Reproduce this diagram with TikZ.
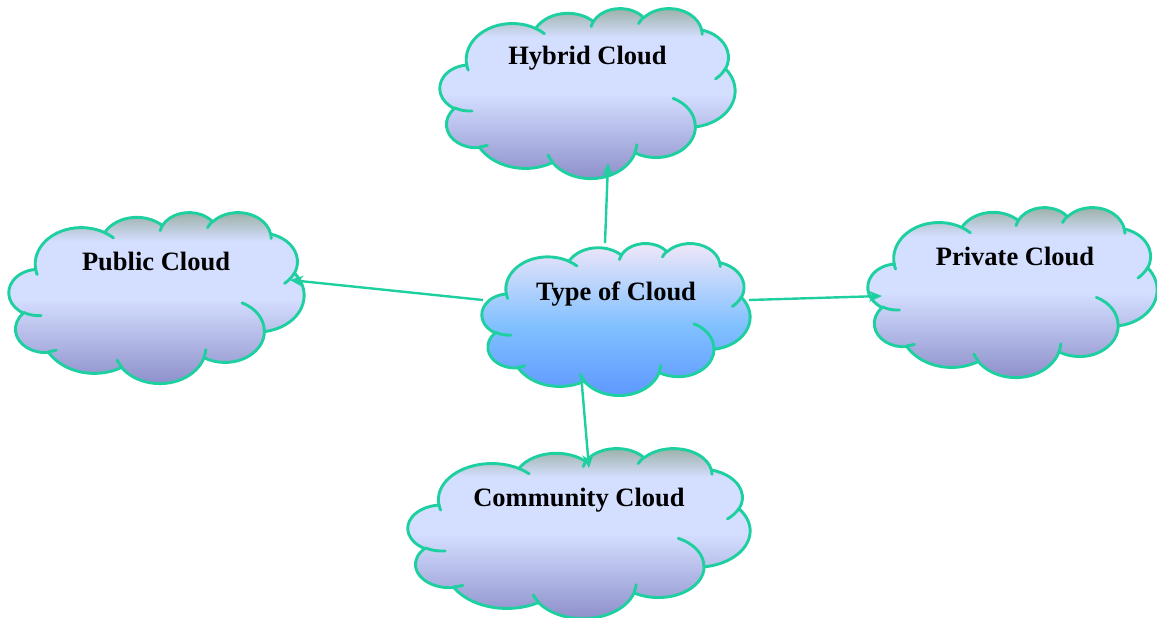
\documentclass[tikz,border=0pt]{standalone}
\usepackage{fontspec}
\setmainfont{Liberation Serif}
\usetikzlibrary{arrows.meta}

\definecolor{edgeteal}{RGB}{30,208,160}
\definecolor{lavtop}{RGB}{150,172,158}
\definecolor{lavmid}{RGB}{212,222,255}
\definecolor{lavbot}{RGB}{138,140,200}
\definecolor{bluetop}{RGB}{243,232,248}
\definecolor{bluemid}{RGB}{128,192,255}
\definecolor{bluebot}{RGB}{92,150,255}

% vertical fills (the 25bp..75bp band is stretched over the cloud's height)
\pgfdeclareverticalshading{lavshade}{100bp}{color(0bp)=(lavbot); color(25bp)=(lavbot); color(50bp)=(lavmid); color(66bp)=(lavmid); color(75bp)=(lavtop); color(100bp)=(lavtop)}
\pgfdeclareverticalshading{blueshade}{100bp}{color(0bp)=(bluebot); color(25bp)=(bluebot); color(48bp)=(bluemid); color(75bp)=(bluetop); color(100bp)=(bluetop)}

% elliptic arcs given by true (visual) angles: convert them to ellipse parameters
\tikzset{
  declare function={
    pang(\ang,\rx,\ry)=atan2(\rx*sin(\ang),\ry*cos(\ang));
    dang(\ang,\swp,\rx,\ry)=mod(pang(\ang+\swp,\rx,\ry)-pang(\ang,\rx,\ry)+720,360);
  },
  outline/.style={draw=edgeteal, line width=2.9pt, line join=round},
  crease/.style={draw=edgeteal, line width=2.9pt, line cap=round},
  lbl/.style={font=\fontsize{26.5}{30}\selectfont\bfseries, inner sep=0pt, anchor=base},
  link/.style={draw=edgeteal, line width=2.4pt, -{Stealth[length=13pt,width=11pt,inset=4pt]}},
}
\newcommand\oarc[4]{arc[x radius=#1, y radius=#2, start angle={pang(#3,#1,#2)}, delta angle={dang(#3,#4,#1,#2)}]}

% cloud in a box: left, top, width, height, fill
\newcommand\cloudbody[5]{%
  \begin{scope}[shift={(#1,#2)}, xscale=#3/100, yscale=#4/100]
    \shade[shading=#5, outline] (9.028,33.264)
      \oarc{15.632}{21.273}{-190.487}{123.781}
      \oarc{12.345}{16.822}{-144.102}{89.945}
      \oarc{10.104}{13.762}{-145.808}{99.723}
      \oarc{11.243}{15.266}{-130.986}{117.242}
      \oarc{12.345}{16.836}{-78.709}{109.027}
      \oarc{15.683}{21.343}{-46.267}{130.269}
      \oarc{13.391}{18.211}{0.625}{114.033}
      \oarc{15.630}{21.331}{22.452}{115.173}
      \oarc{17.870}{24.405}{66.243}{75.711}
      \oarc{10.093}{13.699}{-274.942}{146.736}
      \oarc{10.058}{13.762}{-246.829}{152.519}
      -- cycle;
    \path[crease]
      (10.863,60.594) \oarc{10.058}{13.762}{86.742}{26.430}
      (16.037,80.785) \oarc{10.093}{13.699}{73.610}{11.447}
      (38.144,90.486) \oarc{15.630}{21.331}{137.624}{14.081}
      (66.729,80.442) \oarc{15.630}{21.331}{6.453}{15.998}
      (79.002,53.134) \oarc{13.391}{18.211}{-70.292}{70.917}
      (96.755,35.542) \oarc{12.345}{16.836}{30.318}{27.752}
      (88.713,12.560) \oarc{11.243}{15.266}{-13.744}{14.859}
      (67.310,9.148)  \oarc{11.243}{15.266}{-149.181}{18.195}
      (51.252,10.926) \oarc{10.104}{13.762}{-163.494}{17.686}
      (32.407,12.019) \oarc{15.632}{21.273}{-66.707}{12.319}
      (9.553,36.549)  \oarc{15.632}{21.273}{157.654}{11.858};
  \end{scope}}

\begin{document}
\begin{tikzpicture}[x=1pt, y=-1pt]
  \useasboundingbox (0,0) rectangle (1157,618);

  % the five clouds
  \cloudbody{440}{8}{295}{170}{lavshade}
  \cloudbody{9}{212}{295}{171}{lavshade}
  \cloudbody{868}{207}{289}{170}{lavshade}
  \cloudbody{408}{448}{342}{170}{lavshade}
  \cloudbody{482}{243}{268}{152}{blueshade}

  % labels
  \node[lbl] (hybrid)    at (587.5,65) {Hybrid Cloud};
  \node[lbl] (public)    at (156,270)  {Public Cloud};
  \node[lbl] (private)   at (1015,265) {Private Cloud};
  \node[lbl] (community) at (579,506)  {Community Cloud};
  \node[lbl] (type)      at (616,300)  {Type of Cloud};

  % connector ends on the cloud outlines
  \coordinate (typeN) at (605,243);
  \coordinate (typeW) at (483,300);
  \coordinate (typeE) at (749,300);
  \coordinate (typeS) at (581,374);
  \coordinate (hybridS) at (608,163);
  \coordinate (publicE) at (290,280);
  \coordinate (privateW) at (882,296);
  \coordinate (communityN) at (589,468);

  \draw[link] (typeN) -- (hybridS);
  \draw[link] (typeW) -- (publicE);
  \draw[link] (typeE) -- (privateW);
  \draw[link] (typeS) -- (communityN);
\end{tikzpicture}
\end{document}
